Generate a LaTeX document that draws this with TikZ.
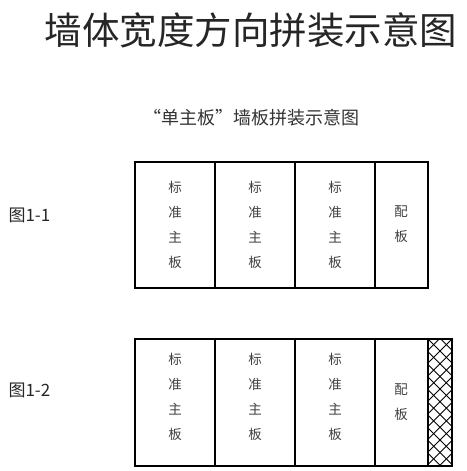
\documentclass[tikz,border=0pt]{standalone}
\usepackage{fontspec}
\newfontfamily\cjk{Noto Sans CJK SC}
\begin{document}
\begin{tikzpicture}[x=1pt,y=-1pt,
  panel/.style={draw=black,line width=2pt,fill=white,inner sep=0pt},
  vtext/.style={font=\cjk\fontsize{13.5}{25}\selectfont,align=center,text=black!75},
  lbl/.style={font=\cjk\fontsize{17}{18}\selectfont,anchor=west,text=black!85}]
\useasboundingbox (0,0) rectangle (466,471);
\node[font=\cjk\fontsize{37.5}{40}\selectfont,text=black!85] (title) at (251,30) {墙体宽度方向拼装示意图};
\node[font=\cjk\fontsize{18}{20}\selectfont,text=black!80] (sub) at (251,118) {“单主板”墙板拼装示意图};
\node[lbl] (l1) at (5,215) {图1-1};
\node[lbl] (l2) at (5,390) {图1-2};
% row 1
\foreach \a/\b/\n in {135/215/a,215/295/b,295/375/c}{
  \draw[line width=2pt] (\a,162) rectangle (\b,288);
  \node[vtext] (r1\n) at ({(\a+\b)/2},225) {标\\准\\主\\板};
}
\draw[line width=2pt] (375,162) rectangle (428,288);
\node[vtext] (r1d) at (401,224) {配\\板};
% row 2
\foreach \a/\b/\n in {135/215/a,215/295/b,295/375/c}{
  \draw[line width=2pt] (\a,339) rectangle (\b,466);
  \node[vtext] (r2\n) at ({(\a+\b)/2},397) {标\\准\\主\\板};
}
\draw[line width=2pt] (375,339) rectangle (428,466);
\node[vtext] (r2d) at (401,402) {配\\板};
\begin{scope}
\clip (428,339) rectangle (452,466);
\foreach \k in {-4,...,12}{
  \draw[line width=0.9pt] (428,{339+12.7*\k}) -- ++(140,140);
  \draw[line width=0.9pt] (452,{339+12.7*\k}) -- ++(-140,140);
}
\end{scope}
\draw[line width=2pt] (428,339) rectangle (452,466);
\end{tikzpicture}
\end{document}
